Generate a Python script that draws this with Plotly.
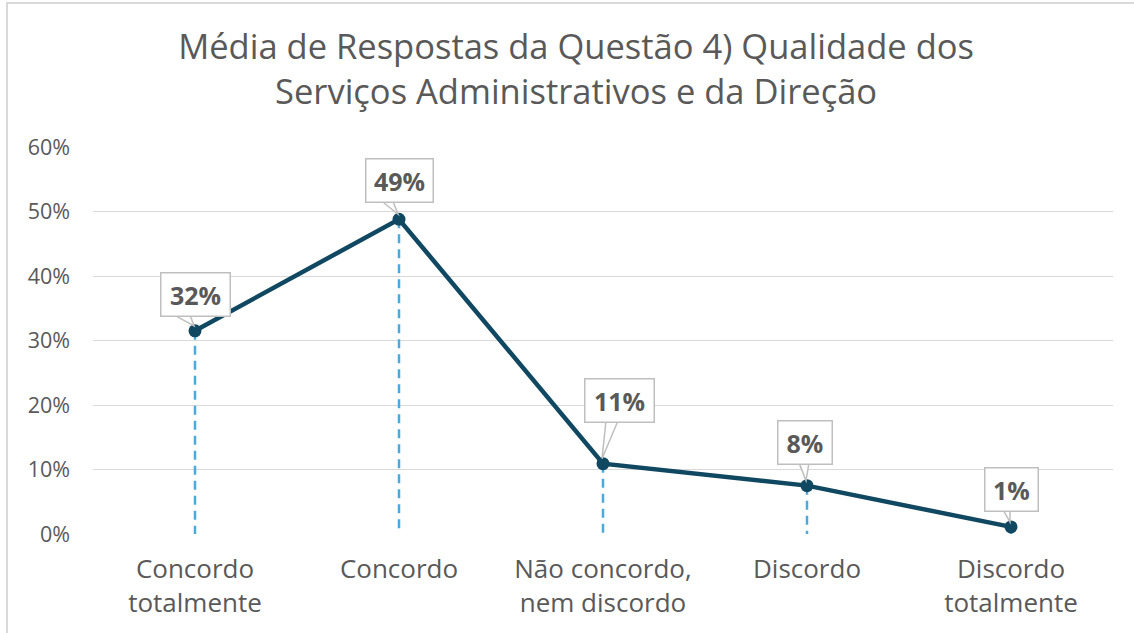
import plotly.graph_objects as go

# dados
categorias = ["Concordo<br>totalmente", "Concordo", "Não concordo,<br>nem discordo",
              "Discordo", "Discordo<br>totalmente"]
valores = [0.315, 0.488, 0.109, 0.075, 0.011]
rotulos = ["32%", "49%", "11%", "8%", "1%"]

# posição das caixas de rótulo em pixels (relativa ao ponto)
rot_dx = [0, 0, 16, -2, 0]
rot_dy = [14, 16, 41, 21, 15]
rot_larg = [72, 70, 72, 57, 56]
# base da "seta" da caixa (pixels em x relativos ao ponto)
seta = [(-21, -5), (-17, -6), (3, 15), (-8, 2), (-8, -1)]

FONTE = "Open Sans"
COR_LINHA = "#104862"
COR_TRACO = "#4AAADD"
CINZA = "#595959"

x = list(range(len(categorias)))

fig = go.Figure()

# linhas verticais tracejadas até o eixo
xs, ys = [], []
for i, v in zip(x, valores):
    xs += [i, i, None]
    ys += [v, 0, None]
fig.add_trace(go.Scatter(
    x=xs, y=ys, mode="lines",
    line=dict(color=COR_TRACO, width=2.5, dash="9px,6px"),
    hoverinfo="skip", showlegend=False,
))

# linha principal
fig.add_trace(go.Scatter(
    x=x, y=valores, mode="lines+markers",
    line=dict(color=COR_LINHA, width=4.5),
    marker=dict(color=COR_LINHA, size=13),
    showlegend=False,
))

# caixas de rótulo
for i, v in enumerate(valores):
    fig.add_annotation(
        x=i, y=v, xref="x", yref="y",
        text=f"<b>{rotulos[i]}</b>", showarrow=False,
        xshift=rot_dx[i], yshift=rot_dy[i], yanchor="bottom",
        width=rot_larg[i] - 4, height=42,
        font=dict(family=FONTE, size=25, color=CINZA),
        bgcolor="white", bordercolor="#BFBFBF", borderwidth=1.5, borderpad=0,
    )
    a, b = seta[i]
    d = rot_dy[i]
    fig.add_shape(
        type="path", xref="x", yref="y",
        xsizemode="pixel", ysizemode="pixel", xanchor=i, yanchor=v,
        path=f"M {a},{d + 2} L -1,5 L {b},{d + 2}",
        line=dict(color="#BFBFBF", width=1.5), fillcolor="white",
        layer="above",
    )

# moldura do gráfico (cortada à direita e embaixo)
fig.add_shape(
    type="rect", xref="paper", yref="paper",
    x0=-0.0843, x1=1.2, y0=-0.5, y1=1.372,
    line=dict(color="#D9D9D9", width=2), layer="below",
)

fig.update_layout(
    width=1134, height=633,
    paper_bgcolor="white", plot_bgcolor="white",
    margin=dict(l=93, r=21, t=147, b=99),
    font=dict(family=FONTE, color=CINZA),
    title=dict(
        text="Média de Respostas da Questão 4) Qualidade dos<br>Serviços Administrativos e da Direção",
        x=0.508, xanchor="center", y=0.907, yanchor="middle",
        font=dict(family=FONTE, size=34.5, color=CINZA),
    ),
)
fig.update_xaxes(
    range=[-0.5, 4.5], tickvals=x, ticktext=categorias,
    showgrid=False, zeroline=False, showline=False,
    tickfont=dict(family=FONTE, size=26, color=CINZA),
    ticks="", ticklabelstandoff=17,
)
fig.update_yaxes(
    range=[0, 0.6], dtick=0.1, tickformat=".0%",
    showgrid=True, gridcolor="#D9D9D9", gridwidth=1.2,
    zeroline=False, showline=False,
    tickfont=dict(family=FONTE, size=21.5, color=CINZA),
    ticks="", ticklabelstandoff=22,
)

# sem margem do <body>, para a figura ocupar a janela inteira
fig.write_html("out.html", config={"displayModeBar": False},
               post_script="document.body.style.margin='0';")
